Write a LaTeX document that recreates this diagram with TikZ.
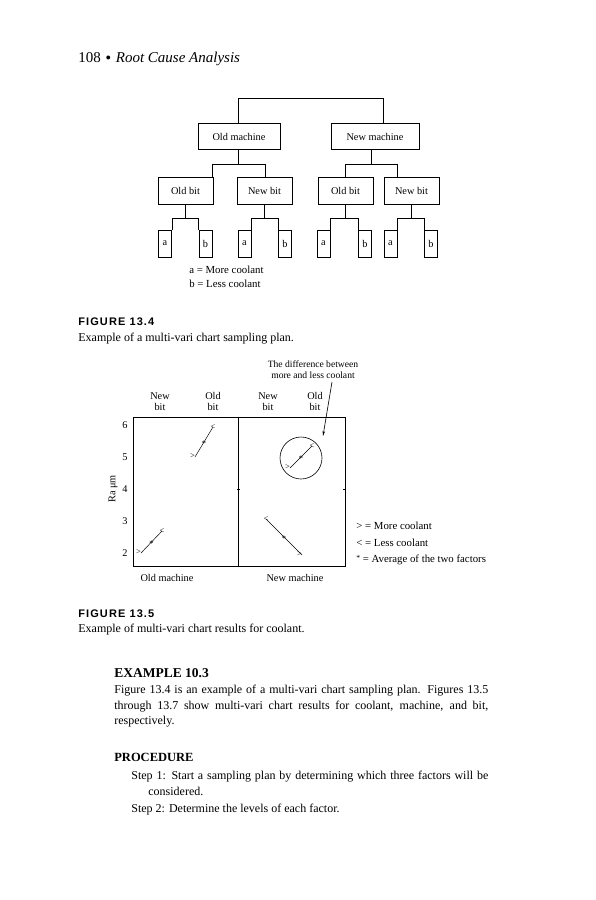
\documentclass[tikz,border=0pt]{standalone}
\usepackage{fontspec}
\setmainfont{Liberation Serif}
\newfontfamily\capsans[LetterSpace=10]{Liberation Sans}
\usetikzlibrary{arrows.meta,calc}
\begin{document}
\begin{tikzpicture}[x=1pt,y=-1pt,line width=0.7pt,
  every node/.style={inner sep=0pt},
  tbox/.style={draw,line width=0.7pt,font=\fontsize{10.3}{11}\selectfont,minimum height=26pt},
  bitbox/.style={draw,line width=0.7pt,font=\fontsize{10.3}{11}\selectfont,minimum height=27pt,minimum width=55pt},
  abbox/.style={draw,line width=0.7pt,font=\fontsize{10.3}{11}\selectfont,minimum height=27pt,minimum width=13pt},
  body/.style={anchor=base west,font=\fontsize{12}{14}\selectfont},
  bodyb/.style={anchor=base west,font=\bfseries\fontsize{12.5}{14}\selectfont},
  figcap/.style={anchor=base west,font=\capsans\bfseries\fontsize{11}{12}\selectfont},
  smalltext/.style={font=\fontsize{10.3}{11}\selectfont},
  legtext/.style={anchor=base west,font=\fontsize{10.8}{12}\selectfont},
  mk/.style={font=\fontsize{8.5}{8.5}\selectfont},
  conn/.style={line width=0.7pt}]
\useasboundingbox (0,0) rectangle (595,900);

% header
\node[anchor=base west,font=\fontsize{15}{17}\selectfont] (hdr) at (78,62) {108\hspace{5pt}\raisebox{2pt}{\scalebox{0.7}{$\bullet$}}\hspace{5pt}\textit{Root Cause Analysis}};

% tree
\node[tbox,minimum width=82pt] (om) at (239,136.5) {Old machine};
\node[tbox,minimum width=88pt] (nm) at (375,136.5) {New machine};
\coordinate (top1) at (238,98);
\coordinate (top2) at (383,98);
\draw[conn] (om.north -| top1) -- (top1) -- (top2) -- (nm.north -| top2);

\node[bitbox] (ob1) at (185.5,190.5) {Old bit};
\node[bitbox] (nb1) at (264.5,190.5) {New bit};
\node[bitbox] (ob2) at (345.5,190.5) {Old bit};
\node[bitbox] (nb2) at (411.5,190.5) {New bit};

\coordinate (h1a) at (212,164);
\coordinate (h1b) at (265,164);
\coordinate (h2a) at (345,164);
\coordinate (h2b) at (397,164);
\draw[conn] (om.south -| top1) -- (top1 |- h1a);
\draw[conn] (ob1.north -| h1a) -- (h1a) -- (h1b) -- (nb1.north -| h1b);
\draw[conn] (nm.south -| 371,0) -- (371,164);
\draw[conn] (ob2.north -| h2a) -- (h2a) -- (h2b) -- (nb2.north -| h2b);

\foreach \i/\xa/\xb/\p in {1/165/205.5/ob1,2/244.5/285/nb1,3/323.5/365/ob2,4/390.5/431/nb2}{
  \node[abbox] (a\i) at (\xa,243.5) {a};
  \node[abbox] (b\i) at (\xb,243.5) {b};
  \coordinate (s\i) at ($(\p.south)+(0,14)$);
  \draw[conn] (\p.south) -- (s\i);
  \draw[conn] (a\i.north east) -- (a\i.north east |- s\i) -- (b\i.north west |- s\i) -- (b\i.north west);
}
\node[legtext] (la) at (189,273) {a = More coolant};
\node[legtext] (lb) at (189,287) {b = Less coolant};

% caption 13.4
\node[figcap] (f4) at (78,325) {FIGURE 13.4};
\node[body] (f4t) at (78,341) {Example of a multi-vari chart sampling plan.};

% chart
\draw[conn] (133,417) rectangle (345,566);
\draw[conn] (238,417) -- (238,566);
\draw[line width=0.4pt] (237,489) -- (239.5,489) (343,489) -- (345,489);
\foreach \v/\yy in {6/425,5/457,4/489,3/521,2/553}{
  \node[smalltext] (y\v) at (125,\yy) {\v};
}
\node[smalltext,rotate=90] (ylab) at (113,489) {Ra μm};
\node[smalltext,align=center] (hx1) at (160,401.5) {New\\[0pt]bit};
\node[smalltext,align=center] (hx2) at (213,401.5) {Old\\[0pt]bit};
\node[smalltext,align=center] (hx3) at (268,401.5) {New\\[0pt]bit};
\node[smalltext,align=center] (hx4) at (315,401.5) {Old\\[0pt]bit};
\node[smalltext] (om2) at (167,578) {Old machine};
\node[smalltext] (nm2) at (295,578) {New machine};

% data lines
\coordinate (p1a) at (141,553); \coordinate (p1b) at (162,531);
\coordinate (p2a) at (195,457); \coordinate (p2b) at (213,427);
\coordinate (p3a) at (290,468); \coordinate (p3b) at (312,446);
\coordinate (p4a) at (302,555); \coordinate (p4b) at (266,519);
\foreach \k in {1,2,3,4}{
  \draw[line width=0.5pt] (p\k a) -- (p\k b);
  \node[mk] at ($(p\k a)+(-2.5,-0.5)$) {>};
  \node[mk] at ($(p\k b)+(0,0)$) {<};
  \node[mk] at ($(p\k a)!0.5!(p\k b)+(0,1.5)$) {*};
}
\node[draw,circle,line width=0.6pt,minimum size=42pt] (circ) at (301,458) {};
\node[smalltext,align=center,font=\fontsize{9.6}{10.5}\selectfont] (ann) at (313,369.5) {The difference between\\[0pt]more and less coolant};
\coordinate (arrs) at (332,382);
\coordinate (arre) at (323,436);
\draw[line width=0.6pt,-{Stealth[length=5pt,width=2.5pt]}] (arrs) -- (arre);

% legend
\node[legtext] (lg1) at (356,529) {> = More coolant};
\node[legtext] (lg2) at (356,546) {< = Less coolant};
\node[legtext] (lg3) at (356,562) {\raisebox{2pt}{\scalebox{0.7}{*}} = Average of the two factors};

% caption 13.5
\node[figcap] (f5) at (78,617) {FIGURE 13.5};
\node[body] (f5t) at (78,632) {Example of multi-vari chart results for coolant.};

% example text
\node[bodyb,font=\bfseries\fontsize{13.5}{15}\selectfont] (ex) at (114,677) {EXAMPLE 10.3};
\node[body] (ex1) at (114,693) {\makebox[374pt][s]{Figure 13.4 is an example of a multi-vari chart sampling plan. Figures 13.5}};
\node[body] (ex2) at (114,709) {\makebox[374pt][s]{through 13.7 show multi-vari chart results for coolant, machine, and bit,}};
\node[body] (ex3) at (114,724) {respectively.};
\node[bodyb] (pr) at (114,761) {PROCEDURE};
\node[body] (st1) at (131,779) {\makebox[357pt][s]{Step 1: Start a sampling plan by determining which three factors will be}};
\node[body] (st1b) at (148,795) {considered.};
\node[body] (st2) at (131,812) {Step 2: Determine the levels of each factor.};
\end{tikzpicture}
\end{document}
